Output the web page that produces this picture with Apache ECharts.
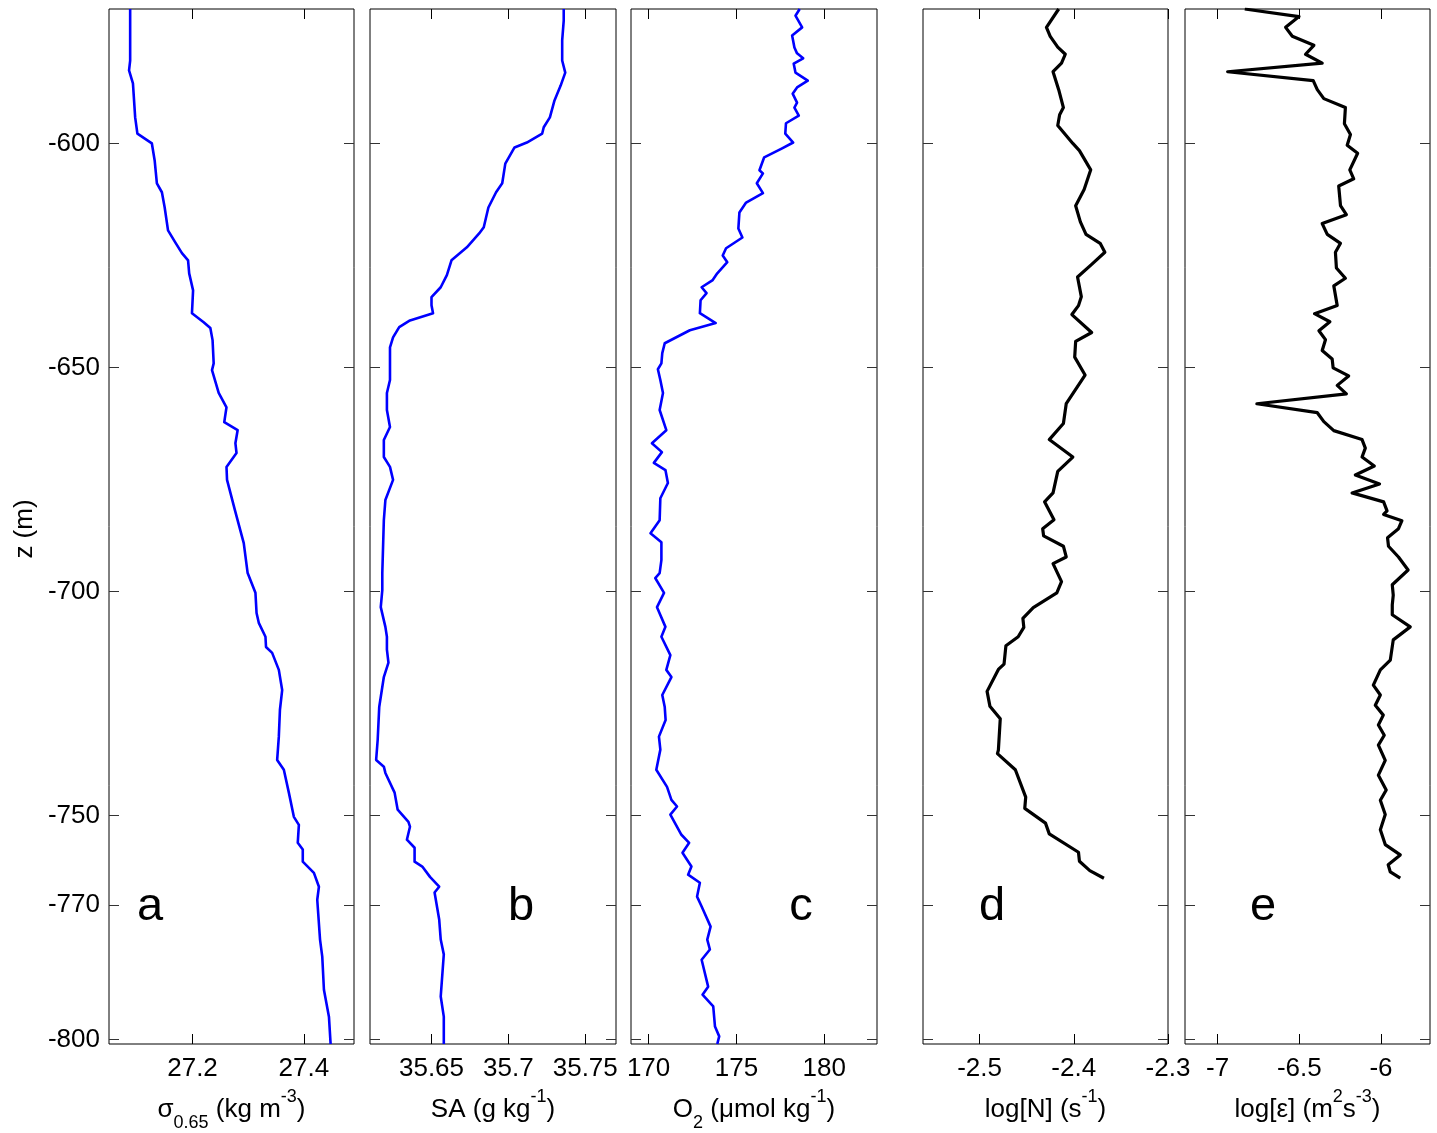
<!DOCTYPE html>
<html><head><meta charset="utf-8">
<script src="https://cdn.jsdelivr.net/npm/echarts@6/dist/echarts.min.js"></script>
<style>html,body{margin:0;padding:0;background:#fff}#c{width:1437px;height:1133px}</style>
</head><body><div id="c"></div>
<script>
// depth tick labels (m)
const depthTicks = [-600, -650, -700, -750, -770, -800];
// x tick labels per panel
const sigmaTicks = [27.2, 27.4];
const saTicks = [35.65, 35.7, 35.75];
const o2Ticks = [170, 175, 180];
const nTicks = [-2.5, -2.4, -2.3];
const epsTicks = [-7, -6.5, -6];

// profiles: [value, depth]
const sigmaProfile = [[27.088,-570],[27.088,-581.5],[27.086,-583.7],[27.093,-586.6],[27.097,-594.2],[27.101,-597.8],[27.127,-600],[27.132,-603.8],[27.136,-608.9],[27.145,-610.9],[27.150,-614.3],[27.156,-619.4],[27.169,-622.1],[27.181,-624.5],[27.192,-626.1],[27.194,-629],[27.201,-632.8],[27.199,-637.9],[27.220,-639.9],[27.232,-641.2],[27.236,-643.9],[27.238,-649.1],[27.235,-650.6],[27.247,-655.7],[27.261,-658.9],[27.257,-662.2],[27.281,-664],[27.277,-666.9],[27.279,-669.1],[27.261,-672.2],[27.262,-675.1],[27.276,-681.8],[27.292,-689.2],[27.299,-695.9],[27.313,-700.3],[27.315,-704.8],[27.319,-707],[27.331,-710.1],[27.332,-712.4],[27.343,-713.7],[27.355,-717.5],[27.361,-722],[27.357,-726.4],[27.355,-732.4],[27.352,-737.6],[27.364,-739.8],[27.373,-744.9],[27.382,-750.3],[27.391,-752.1],[27.389,-756.1],[27.398,-757.6],[27.398,-760.3],[27.418,-762.8],[27.427,-765.9],[27.424,-768.8],[27.429,-777.7],[27.433,-781.5],[27.436,-788.9],[27.445,-794.9],[27.448,-801]];

const saProfile = [[35.736,-570],[35.736,-572.6],[35.735,-577],[35.735,-581.5],[35.737,-584.2],[35.734,-587.1],[35.730,-590.4],[35.727,-594.2],[35.723,-596.4],[35.722,-597.8],[35.712,-599.8],[35.704,-600.9],[35.698,-604.5],[35.696,-608.9],[35.692,-610.9],[35.687,-614.3],[35.684,-618.7],[35.681,-620.1],[35.673,-623.2],[35.663,-626.1],[35.660,-629.4],[35.656,-632.1],[35.650,-634.3],[35.650,-636.1],[35.651,-637.9],[35.636,-639.5],[35.629,-641],[35.625,-643.3],[35.623,-645.5],[35.623,-652.8],[35.621,-655.7],[35.621,-659.5],[35.623,-663.3],[35.619,-666.2],[35.619,-670],[35.623,-672.2],[35.625,-675.1],[35.620,-679.6],[35.619,-684.1],[35.618,-695.9],[35.618,-699.7],[35.617,-703.5],[35.620,-707.9],[35.621,-710.1],[35.621,-713],[35.622,-715.9],[35.619,-719.1],[35.616,-725.8],[35.615,-733.1],[35.614,-737.6],[35.619,-739.1],[35.620,-740.5],[35.626,-744.9],[35.628,-748.7],[35.635,-751.4],[35.636,-752.5],[35.634,-755.4],[35.639,-757.2],[35.639,-760.3],[35.644,-761.4],[35.649,-763.7],[35.655,-765.9],[35.652,-767.2],[35.655,-773.2],[35.656,-777.7],[35.658,-781],[35.656,-790.4],[35.658,-794.9],[35.658,-801]];

const o2Profile = [[178.60,-570],[178.36,-571.5],[178.74,-574.1],[178.17,-575.9],[178.30,-578.6],[178.45,-579.9],[178.80,-581],[178.26,-582.2],[178.36,-584.2],[179.06,-586],[178.45,-587.5],[178.20,-588.9],[178.45,-590.9],[178.30,-592],[178.55,-593.8],[177.82,-595.5],[177.78,-597.8],[178.23,-599.8],[177.60,-601.1],[176.58,-603.1],[176.31,-606],[176.51,-606.7],[176.16,-608.9],[176.51,-611.1],[175.55,-613.2],[175.17,-615.4],[175.11,-619],[175.34,-621],[174.41,-623.4],[174.22,-625],[174.48,-626.5],[173.91,-629],[173.65,-630.5],[173.02,-632.1],[173.30,-633.4],[172.96,-635],[172.92,-637.9],[173.82,-640.1],[172.35,-641.7],[170.92,-644.6],[170.78,-646.8],[170.73,-649.1],[170.53,-650.4],[170.67,-652.8],[170.82,-655.7],[170.63,-659.5],[171.01,-664],[170.19,-666.9],[170.76,-668.9],[170.30,-671.3],[170.96,-672.9],[171.10,-675.8],[170.67,-679.2],[170.63,-684.1],[170.11,-687],[170.73,-689],[170.73,-693],[170.63,-695.9],[170.38,-697],[170.88,-700.3],[170.48,-703.5],[170.96,-707.9],[170.73,-710.1],[171.24,-714.2],[171.01,-717.5],[171.30,-719.1],[170.78,-723.1],[170.92,-725.8],[170.97,-728.7],[170.59,-732.4],[170.67,-735.3],[170.44,-739.8],[171.05,-743.6],[171.30,-746.5],[171.62,-748],[171.24,-749.8],[171.87,-754.3],[172.31,-756.1],[171.93,-758.3],[172.44,-761.4],[172.25,-763.2],[172.92,-765],[172.76,-768.1],[173.02,-770.3],[173.53,-774.8],[173.34,-777.7],[173.49,-779.9],[173.02,-782.2],[173.39,-788.2],[173.07,-790],[173.68,-792.6],[173.78,-797.1],[174.02,-799.3],[173.91,-801]];

const nProfile = [[-2.416,-570],[-2.429,-574.1],[-2.425,-576.1],[-2.417,-578.5],[-2.409,-580.1],[-2.413,-582.1],[-2.422,-584],[-2.416,-588],[-2.411,-592],[-2.415,-593.6],[-2.417,-596],[-2.401,-600],[-2.394,-601.6],[-2.382,-605.9],[-2.389,-610.3],[-2.398,-613.9],[-2.393,-617.5],[-2.387,-620.3],[-2.372,-622.3],[-2.367,-624.3],[-2.381,-627],[-2.396,-629.8],[-2.392,-634.2],[-2.395,-636.2],[-2.402,-638.2],[-2.381,-642.2],[-2.398,-644.2],[-2.399,-647.7],[-2.388,-651.7],[-2.408,-658.1],[-2.411,-662.5],[-2.426,-666.1],[-2.401,-670],[-2.417,-673.2],[-2.422,-678],[-2.431,-680],[-2.421,-684],[-2.433,-686],[-2.432,-687.6],[-2.411,-689.9],[-2.408,-692.3],[-2.422,-693.8],[-2.413,-697.8],[-2.418,-700.3],[-2.443,-703.6],[-2.454,-706],[-2.453,-708],[-2.459,-710.1],[-2.472,-712.1],[-2.474,-716.2],[-2.480,-717.4],[-2.492,-722.3],[-2.489,-725.6],[-2.478,-728.4],[-2.480,-735.4],[-2.481,-736.2],[-2.462,-739.8],[-2.451,-745.9],[-2.452,-748.4],[-2.430,-751.7],[-2.426,-754.1],[-2.395,-758.2],[-2.394,-760.2],[-2.383,-762.3],[-2.368,-764]];

const epsProfile = [[-6.834,-570],[-6.502,-571.7],[-6.584,-574.1],[-6.543,-576.1],[-6.411,-578.1],[-6.462,-580.1],[-6.360,-582.1],[-6.939,-584],[-6.415,-586],[-6.390,-588],[-6.350,-590],[-6.218,-592],[-6.224,-595.6],[-6.187,-598],[-6.207,-600.4],[-6.143,-602.2],[-6.191,-605.9],[-6.167,-607.9],[-6.259,-609.5],[-6.248,-613.9],[-6.212,-615.9],[-6.360,-617.9],[-6.329,-620.3],[-6.248,-622.3],[-6.279,-624.3],[-6.273,-627.8],[-6.218,-630.1],[-6.289,-631.8],[-6.268,-636.2],[-6.407,-638],[-6.313,-639.8],[-6.380,-641.8],[-6.340,-643.8],[-6.360,-646.2],[-6.299,-648.1],[-6.293,-650.1],[-6.198,-651.9],[-6.268,-654],[-6.212,-655.9],[-6.760,-658.1],[-6.390,-660.1],[-6.350,-662.1],[-6.289,-664.1],[-6.116,-666.1],[-6.096,-668],[-6.116,-670],[-6.041,-672],[-6.157,-674],[-6.009,-676],[-6.177,-678],[-5.984,-680],[-5.963,-682],[-5.984,-682.8],[-5.872,-684.2],[-5.893,-686],[-5.960,-688],[-5.954,-689.9],[-5.893,-692.3],[-5.834,-695.2],[-5.931,-698.5],[-5.925,-700.8],[-5.931,-703],[-5.931,-705.2],[-5.821,-707.9],[-5.925,-710.8],[-5.943,-715.3],[-6.004,-717.5],[-6.047,-720.9],[-6.004,-723.1],[-6.035,-725.4],[-5.986,-727.6],[-6.016,-729.8],[-5.980,-732.1],[-6.016,-734.3],[-5.974,-737.7],[-6.016,-741],[-5.968,-744.3],[-6.004,-746.6],[-5.974,-749.8],[-6.004,-753.2],[-5.974,-756.5],[-5.882,-758.8],[-5.956,-761],[-5.943,-762.6],[-5.882,-764]];

const FONT = 'Arial, "Liberation Sans", Helvetica, sans-serif';
const rich = {
  m: {fontSize: 26, lineHeight: 44, color: '#000', fontFamily: FONT},
  sup: {fontSize: 18, lineHeight: 22, verticalAlign: 'top', color: '#000', fontFamily: FONT},
  sub: {fontSize: 18, lineHeight: 20, verticalAlign: 'bottom', color: '#000', fontFamily: FONT}
};

const panels = [
  {left: 109, width: 245, min: 27.05, max: 27.49, ticks: sigmaTicks, data: sigmaProfile, color: '#0000ff', lw: 2.6,
   name: '{m|σ}{sub|0.65}{m| (kg m}{sup|-3}{m|)}', letter: 'a', lx: 150},
  {left: 370, width: 246, min: 35.61, max: 35.77, ticks: saTicks, data: saProfile, color: '#0000ff', lw: 2.6,
   name: '{m|SA (g kg}{sup|-1}{m|)}', letter: 'b', lx: 521},
  {left: 631, width: 246, min: 169, max: 183, ticks: o2Ticks, data: o2Profile, color: '#0000ff', lw: 2.6,
   name: '{m|O}{sub|2}{m| (μmol kg}{sup|-1}{m|)}', letter: 'c', lx: 801},
  {left: 923, width: 245, min: -2.56, max: -2.3, ticks: nTicks, data: nProfile, color: '#000000', lw: 3.2,
   name: '{m|log[N] (s}{sup|-1}{m|)}', letter: 'd', lx: 992},
  {left: 1185, width: 245, min: -7.2, max: -5.7, ticks: epsTicks, data: epsProfile, color: '#000000', lw: 3.2,
   name: '{m|log[ε] (m}{sup|2}{m|s}{sup|-3}{m|)}', letter: 'e', lx: 1263}
];

const grid = [], xAxis = [], yAxis = [], series = [], graphic = [];
panels.forEach((p, i) => {
  grid.push({left: p.left, width: p.width, top: 9, height: 1035, show: true, borderColor: '#000', borderWidth: 1,
             containLabel: false, outerBoundsMode: 'none'});
  const tickCommon = {show: true, inside: true, length: 10, customValues: p.ticks, lineStyle: {color: '#000', width: 1}};
  xAxis.push({gridIndex: i, type: 'value', position: 'bottom', min: p.min, max: p.max,
    axisLine: {show: false}, splitLine: {show: false}, axisTick: tickCommon,
    axisLabel: {show: true, customValues: p.ticks, margin: 12, fontSize: 26, color: '#000', fontFamily: FONT,
                formatter: v => String(v)},
    name: p.name, nameLocation: 'middle', nameGap: 44, nameTextStyle: {rich: rich}});
  xAxis.push({gridIndex: i, type: 'value', position: 'top', min: p.min, max: p.max,
    axisLine: {show: false}, splitLine: {show: false}, axisTick: tickCommon, axisLabel: {show: false}});
  const yTick = {show: true, inside: true, length: 10, customValues: depthTicks, lineStyle: {color: '#333', width: 1}};
  yAxis.push({gridIndex: i, type: 'value', position: 'left', min: -801, max: -570,
    axisLine: {show: false}, splitLine: {show: false}, axisTick: yTick,
    axisLabel: {show: i === 0, customValues: depthTicks, margin: 9, fontSize: 26, color: '#000', fontFamily: FONT}});
  yAxis.push({gridIndex: i, type: 'value', position: 'right', min: -801, max: -570,
    axisLine: {show: false}, splitLine: {show: false}, axisTick: yTick, axisLabel: {show: false}});
  series.push({type: 'line', xAxisIndex: 2 * i, yAxisIndex: 2 * i, data: p.data, showSymbol: false,
    symbol: 'none', clip: true, lineStyle: {color: p.color, width: p.lw, join: 'round'}, silent: true});
  graphic.push({type: 'text', x: p.lx, y: 907, style: {text: p.letter, fontSize: 47, fontFamily: FONT, fill: '#000',
    align: 'center', verticalAlign: 'middle'}});
});
graphic.push({type: 'text', x: 25, y: 529, rotation: Math.PI / 2, style: {text: 'z (m)', fontSize: 26, fontFamily: FONT,
  fill: '#000', align: 'center', verticalAlign: 'middle'}});

const chart = echarts.init(document.getElementById('c'), null, {renderer: 'canvas'});
chart.setOption({animation: false, backgroundColor: '#fff', grid, xAxis, yAxis, series, graphic});
</script>
</body></html>
